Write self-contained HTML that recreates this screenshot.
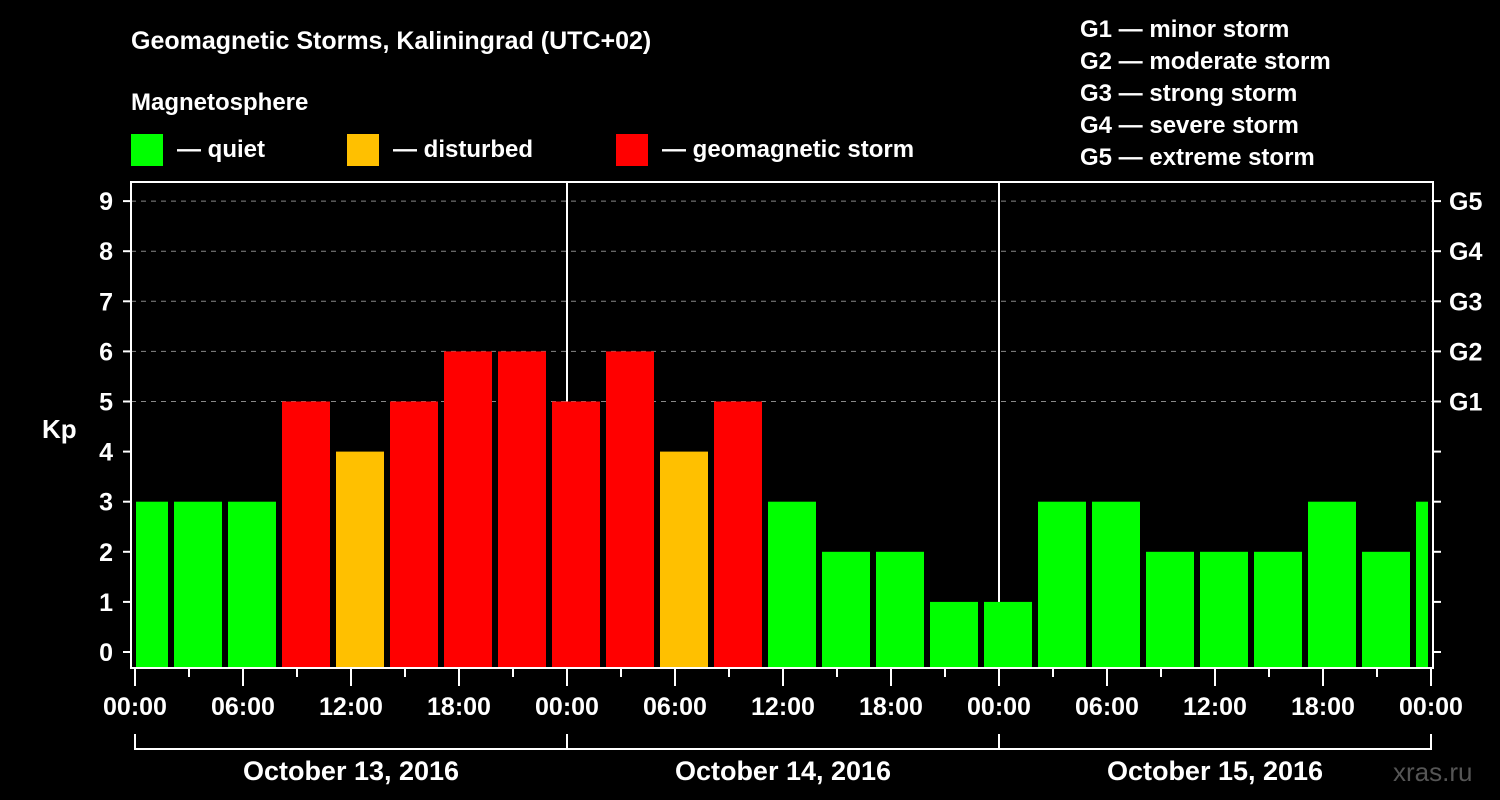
<!DOCTYPE html>
<html><head><meta charset="utf-8"><style>
html,body{margin:0;padding:0;background:#000;}
svg{display:block;font-family:"Liberation Sans",Arial,sans-serif;font-weight:bold;}
</style></head><body>
<svg id="chart" width="1500" height="800" viewBox="0 0 1500 800" xmlns="http://www.w3.org/2000/svg">
<rect width="1500" height="800" fill="#000"/>
<text x="131" y="49" fill="#fff" font-size="25">Geomagnetic Storms, Kaliningrad (UTC+02)</text>
<text x="131" y="110" fill="#fff" font-size="24">Magnetosphere</text>
<g><rect x="131" y="134" width="32" height="32" fill="#00ff00"/><text x="177" y="157" fill="#fff" font-size="24">— quiet</text></g>
<g><rect x="347" y="134" width="32" height="32" fill="#ffc000"/><text x="393" y="157" fill="#fff" font-size="24">— disturbed</text></g>
<g><rect x="616" y="134" width="32" height="32" fill="#ff0000"/><text x="662" y="157" fill="#fff" font-size="24">— geomagnetic storm</text></g>
<g fill="#fff" font-size="24">
<text x="1080" y="37">G1 — minor storm</text>
<text x="1080" y="69">G2 — moderate storm</text>
<text x="1080" y="101">G3 — strong storm</text>
<text x="1080" y="133">G4 — severe storm</text>
<text x="1080" y="165">G5 — extreme storm</text>
</g>
<text x="42" y="438" fill="#fff" font-size="26">Kp</text>
<text x="1393" y="781" fill="#555" font-size="26" font-weight="normal">xras.ru</text>
<g id="grid"></g><g id="bars"></g><g id="axes"></g>
</svg>
<script>
const kpValues = [3,3,3,5,4,5,6,6,5,6,4,5,3,2,2,1,1,3,3,2,2,2,3,2,3];
const binStartHours = -1; // first 3h bin starts at -01:00
const xTickLabels = ["00:00","06:00","12:00","18:00","00:00","06:00","12:00","18:00","00:00","06:00","12:00","18:00","00:00"];
const dateLabels = ["October 13, 2016","October 14, 2016","October 15, 2016"];
const yTickLabels = ["0","1","2","3","4","5","6","7","8","9"];
const gLabels = ["G1","G2","G3","G4","G5"];
const NS="http://www.w3.org/2000/svg";
const L=131,R=1433,T=182,B=668;
const x=h=>135+18*h;
const y=v=>652-50.1*v;
function mk(tag,attrs,parent,txt){const e=document.createElementNS(NS,tag);for(const k in attrs)e.setAttribute(k,attrs[k]);if(txt!==undefined)e.textContent=txt;parent.appendChild(e);return e;}
const grid=document.getElementById('grid'),bars=document.getElementById('bars'),axes=document.getElementById('axes');
for(let v=5;v<=9;v++){const g=mk('line',{x1:L,x2:R,y1:y(v),y2:y(v),stroke:'#888','stroke-width':1,'stroke-dasharray':'5,5'},grid);

}
kpValues.forEach((v,i)=>{
 const s=binStartHours+3*i;
 let x0=x(s)+3,x1=x(s+3)-3;
 x0=Math.max(x0,136);x1=Math.min(x1,1428);
 const c=v>=5?'#ff0000':(v>=4?'#ffc000':'#00ff00');
 const b=mk('rect',{x:x0,y:y(v),width:x1-x0,height:667-y(v),fill:c},bars);
 
 
});
[24,48].forEach(h=>{const l=mk('line',{x1:x(h),x2:x(h),y1:T,y2:B,stroke:'#fff','stroke-width':2},grid);

});
// move day lines below bars
bars.parentNode.insertBefore(grid,bars);
const fr=mk('rect',{x:L,y:T,width:R-L,height:B-T,fill:'none',stroke:'#fff','stroke-width':2},axes);


yTickLabels.forEach((t,v)=>{
 mk('line',{x1:123,x2:L,y1:y(v),y2:y(v),stroke:'#fff','stroke-width':2},axes);
 mk('line',{x1:R,x2:1441,y1:y(v),y2:y(v),stroke:'#fff','stroke-width':2},axes);
 const tx=mk('text',{x:113,y:y(v)+9,fill:'#fff','font-size':25,'text-anchor':'end'},axes,t);
 
 
});
gLabels.forEach((t,i)=>{const tx=mk('text',{x:1449,y:y(5+i)+9,fill:'#fff','font-size':25},axes,t);
 
 });
for(let h=0;h<=72;h+=3){const major=h%6===0;mk('line',{x1:x(h),x2:x(h),y1:B,y2:major?686:677,stroke:'#fff','stroke-width':2},axes);}
xTickLabels.forEach((t,i)=>{const tx=mk('text',{x:x(6*i),y:715,fill:'#fff','font-size':25,'text-anchor':'middle'},axes,t);
 
 });
mk('line',{x1:x(0),x2:x(72),y1:749,y2:749,stroke:'#fff','stroke-width':2},axes);
[0,24,48,72].forEach(h=>mk('line',{x1:x(h),x2:x(h),y1:734,y2:750,stroke:'#fff','stroke-width':2},axes));
dateLabels.forEach((t,i)=>{const tx=mk('text',{x:x(24*i+12),y:780,fill:'#fff','font-size':27,'text-anchor':'middle'},axes,t);
 
 });
</script>
</body></html>
